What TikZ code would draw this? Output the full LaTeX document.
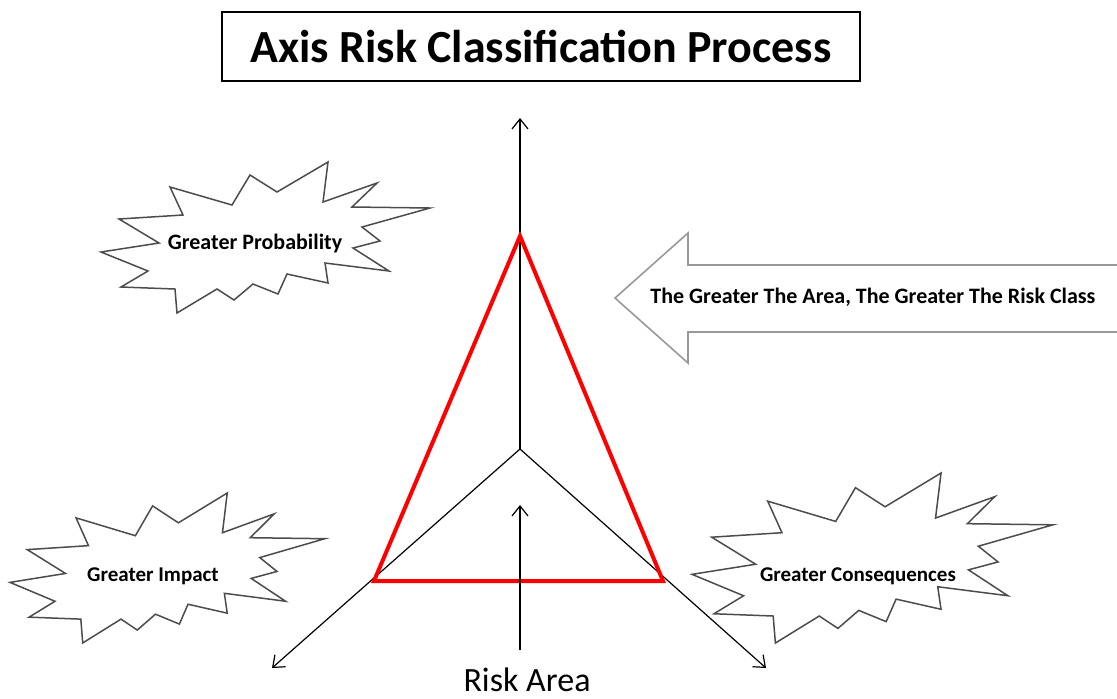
\documentclass[tikz,border=0pt]{standalone}
\usepackage{fontspec}
\setmainfont{Carlito}
\usetikzlibrary{arrows.meta}

\begin{document}
\begin{tikzpicture}[x=0.5pt, y=-0.5pt]
        % Define styles
        \tikzset{
            axis/.style={draw, line width=0.6pt, -{Straight Barb[length=5pt, width=8pt]}},
            riskline/.style={draw=red, line width=2pt, line join=miter},
            burstline/.style={draw=black!70, fill=white, line width=0.75pt, line join=miter},
            burstlabel/.style={font=\fontsize{10.5}{12}\selectfont\bfseries},
            bigarrow/.style={draw=black!40, fill=white, line width=0.8pt},
            titlebox/.style={draw, line width=0.8pt, minimum width=319pt, minimum height=34.5pt, font=\fontsize{23}{27}\selectfont\bfseries},
            burst/.pic={
                \path[burstline] (0,90) -- (58,81) -- (18,57) -- (82,53) -- (69,25) -- (131,43) -- (149,13) -- (176,30)
                    -- (227,0) -- (222,40) -- (276,21) -- (251,45) -- (329,46) -- (261,65) -- (279,79) -- (252,86)
                    -- (288,109) -- (224,101) -- (227,121) -- (186,112) -- (177,132) -- (152,122) -- (133,138) -- (116,127)
                    -- (76,151) -- (74,127) -- (20,125) -- (47,109) -- cycle;
            }
        }
        \useasboundingbox (0,0) rectangle (1117,698);

        % Title
        \node[titlebox] (title) at (541,46.5) {Axis Risk Classification Process};

        % Axes
        \coordinate (origin) at (520,449);
        \coordinate (probend) at (520,118);
        \coordinate (impactend) at (272,668);
        \coordinate (consend) at (766,668);
        \draw[axis] (origin) -- (probend);
        \draw[axis] (origin) -- (impactend);
        \draw[axis] (origin) -- (consend);

        % Risk triangle
        \coordinate (redtop) at (520,236);
        \coordinate (redleft) at (374,581);
        \coordinate (redright) at (663,581);
        \draw[riskline] (redtop) -- (redright) -- (redleft) -- cycle;

        % Risk area
        \node[font=\fontsize{17}{20}\selectfont, inner sep=0.5pt] (riskarea) at (527,680) {Risk Area};
        \coordinate (riskbase) at (520,650);
        \coordinate (riskhead) at (520,505);
        \draw[axis] (riskbase) -- (riskhead);

        % Big arrow
        \path[bigarrow] (1117,265) -- (688,265) -- (688,233) -- (615,298) -- (688,363) -- (688,332) -- (1117,332);
        \node[burstlabel, font=\fontsize{11}{13}\selectfont\bfseries] (arrowtext) at (873,297) {The Greater The Area, The Greater The Risk Class};

        % Bursts
        \pic at (101,162) {burst};
        \node[burstlabel, font=\fontsize{11}{13}\selectfont\bfseries] (probability) at (255,243) {Greater Probability};
        \pic[xscale=0.957, yscale=0.993] at (10,493) {burst};
        \node[burstlabel] (impact) at (153,576) {Greater Impact};
        \pic[xscale=1.097, yscale=1.126] at (692,473) {burst};
        \node[burstlabel] (consequences) at (858,576) {Greater Consequences};
    \end{tikzpicture}
\end{document}
